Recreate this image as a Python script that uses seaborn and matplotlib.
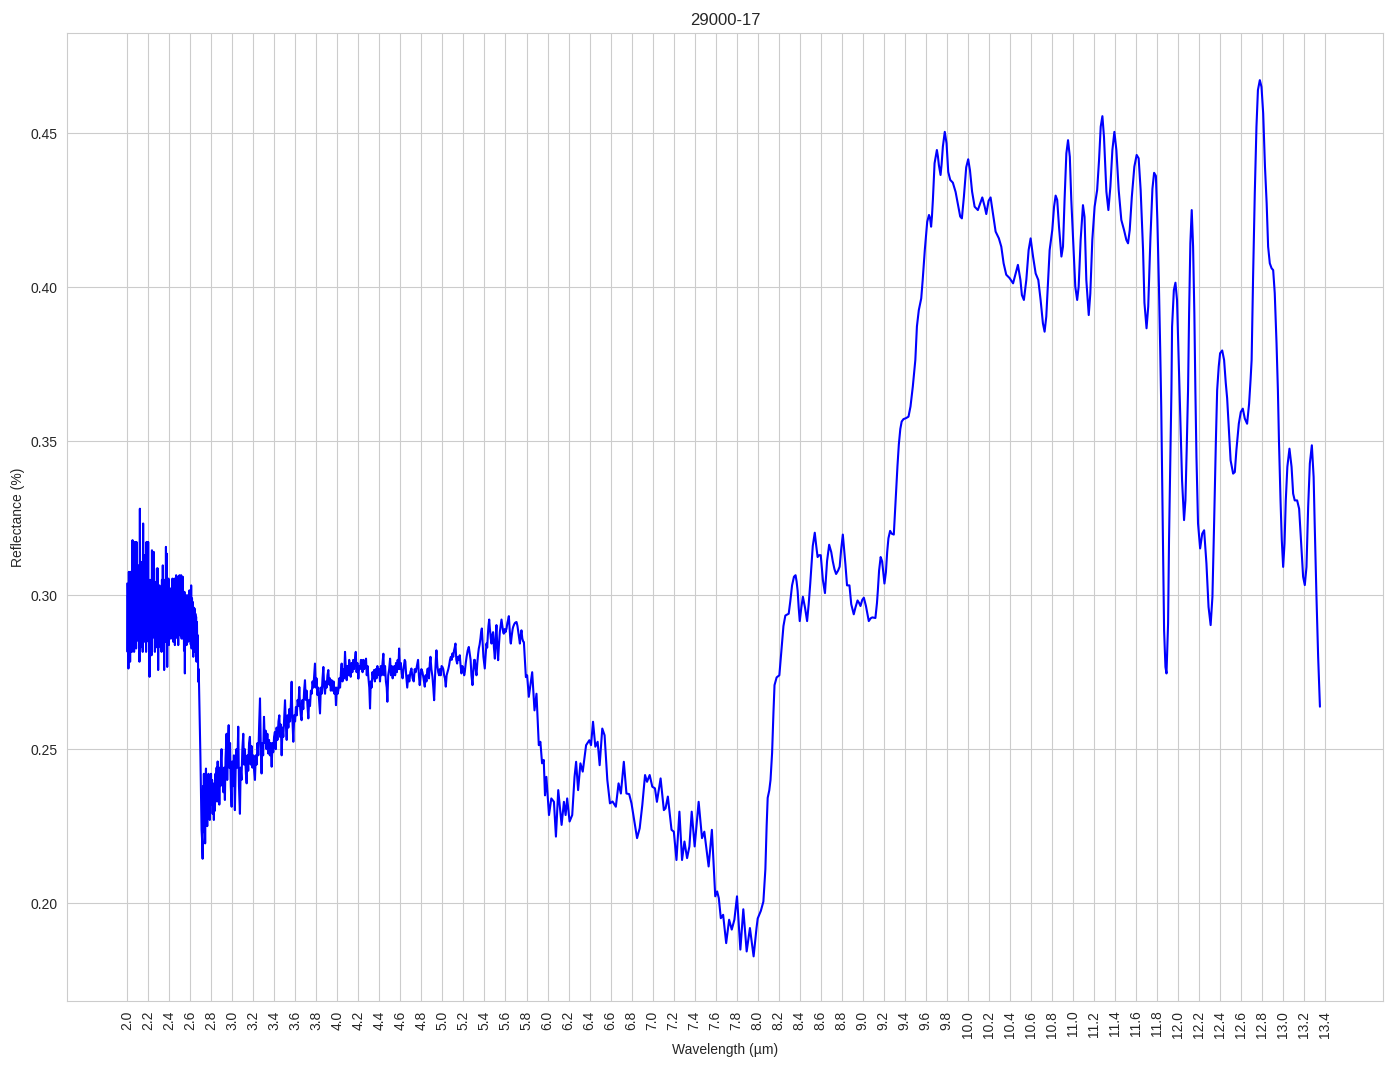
import numpy as np
import pandas as pd
import matplotlib
matplotlib.use("Agg")
import matplotlib.pyplot as plt
import seaborn as sns

# ---- data ----
# segment A: noisy band 2.0 - 2.72 um
wl_a = [2.000, 2.004, 2.008, 2.012, 2.016, 2.020, 2.024, 2.028, 2.032, 2.036,
        2.040, 2.045, 2.051, 2.055, 2.059, 2.066, 2.073, 2.077, 2.081, 2.085,
        2.089, 2.093, 2.097, 2.101, 2.105, 2.109, 2.113, 2.117, 2.121, 2.125,
        2.129, 2.133, 2.137, 2.141, 2.144, 2.148, 2.152, 2.156, 2.160, 2.164,
        2.168, 2.172, 2.176, 2.180, 2.184, 2.188, 2.192, 2.196, 2.200, 2.204,
        2.208, 2.213, 2.218, 2.222, 2.227, 2.232, 2.236, 2.240, 2.244, 2.248,
        2.252, 2.256, 2.260, 2.264, 2.268, 2.271, 2.275, 2.279, 2.283, 2.287,
        2.291, 2.295, 2.299, 2.303, 2.307, 2.311, 2.315, 2.319, 2.323, 2.327,
        2.331, 2.335, 2.339, 2.343, 2.348, 2.352, 2.358, 2.365, 2.369, 2.373,
        2.377, 2.381, 2.385, 2.389, 2.393, 2.397, 2.401, 2.406, 2.411, 2.416,
        2.420, 2.425, 2.431, 2.438, 2.442, 2.446, 2.450, 2.454, 2.458, 2.462,
        2.466, 2.470, 2.474, 2.478, 2.482, 2.486, 2.490, 2.494, 2.498, 2.502,
        2.506, 2.510, 2.514, 2.518, 2.522, 2.525, 2.529, 2.533, 2.537, 2.541,
        2.545, 2.549, 2.553, 2.557, 2.561, 2.565, 2.569, 2.573, 2.577, 2.581,
        2.585, 2.589, 2.593, 2.597, 2.601, 2.605, 2.609, 2.613, 2.617, 2.621,
        2.625, 2.629, 2.633, 2.637, 2.641, 2.645, 2.649, 2.652, 2.656, 2.660,
        2.664, 2.668, 2.672, 2.676, 2.681, 2.686, 2.690, 2.697, 2.703, 2.708,
        2.714, 2.718]
refl_a = [0.3038, 0.2816, 0.3000, 0.2762, 0.3076, 0.2790, 0.3060, 0.2784, 0.3076, 0.2820,
          0.3000, 0.2816, 0.3179, 0.2840, 0.3100, 0.2816, 0.3173, 0.2860, 0.3050, 0.2827,
          0.3173, 0.2880, 0.3030, 0.2892, 0.3097, 0.2850, 0.3040, 0.2784, 0.3281, 0.2830,
          0.3060, 0.2870, 0.3108, 0.2859, 0.3020, 0.2816, 0.3233, 0.2860, 0.3080, 0.2849,
          0.3130, 0.2880, 0.3040, 0.2816, 0.3173, 0.2850, 0.3060, 0.2870, 0.3173, 0.2859,
          0.3000, 0.2735, 0.3050, 0.2830, 0.3020, 0.2805, 0.3146, 0.2860, 0.3100, 0.2870,
          0.3141, 0.2880, 0.3000, 0.2816, 0.3043, 0.2850, 0.3000, 0.2870, 0.3087, 0.2830,
          0.3087, 0.2757, 0.3000, 0.2870, 0.3032, 0.2892, 0.2990, 0.2830, 0.3016, 0.2816,
          0.3050, 0.2860, 0.3097, 0.2870, 0.3000, 0.2757, 0.3050, 0.2849, 0.3157, 0.2880,
          0.3135, 0.2767, 0.3050, 0.2860, 0.3054, 0.2838, 0.3010, 0.2870, 0.3022, 0.2859,
          0.2990, 0.2870, 0.3054, 0.2849, 0.3030, 0.2870, 0.3054, 0.2838, 0.3040, 0.2870,
          0.3065, 0.2892, 0.3040, 0.2860, 0.3060, 0.2838, 0.3050, 0.2870, 0.3065, 0.2892,
          0.3040, 0.2870, 0.3065, 0.2859, 0.3030, 0.2870, 0.3060, 0.2859, 0.3000, 0.2820,
          0.3011, 0.2746, 0.2990, 0.2860, 0.3000, 0.2838, 0.2980, 0.2870, 0.3000, 0.2849,
          0.2990, 0.2880, 0.3016, 0.2870, 0.2990, 0.2840, 0.3032, 0.2827, 0.2990, 0.2850,
          0.2978, 0.2800, 0.2960, 0.2830, 0.2957, 0.2816, 0.2940, 0.2850, 0.2930, 0.2784,
          0.2913, 0.2800, 0.2870, 0.2719, 0.2760, 0.2675, 0.2600, 0.2475, 0.2340, 0.2237,
          0.2200, 0.2144]

# segment B: 2.72 - 5.78 um
wl_b = [2.722, 2.726, 2.730, 2.734, 2.738, 2.742, 2.746, 2.750, 2.754, 2.758,
        2.762, 2.766, 2.770, 2.774, 2.778, 2.782, 2.786, 2.790, 2.794, 2.798,
        2.803, 2.808, 2.813, 2.818, 2.825, 2.830, 2.835, 2.840, 2.845, 2.851,
        2.856, 2.861, 2.867, 2.872, 2.877, 2.883, 2.888, 2.893, 2.898, 2.904,
        2.910, 2.916, 2.922, 2.930, 2.936, 2.946, 2.952, 2.958, 2.966, 2.972,
        2.979, 2.986, 2.994, 3.000, 3.008, 3.016, 3.025, 3.032, 3.040, 3.048,
        3.057, 3.064, 3.073, 3.080, 3.088, 3.096, 3.105, 3.112, 3.120, 3.130,
        3.137, 3.145, 3.152, 3.160, 3.168, 3.176, 3.184, 3.192, 3.200, 3.208,
        3.216, 3.224, 3.232, 3.240, 3.248, 3.256, 3.264, 3.271, 3.279, 3.286,
        3.294, 3.302, 3.310, 3.318, 3.326, 3.334, 3.343, 3.350, 3.358, 3.366,
        3.375, 3.383, 3.390, 3.398, 3.406, 3.414, 3.422, 3.430, 3.440, 3.448,
        3.455, 3.462, 3.470, 3.478, 3.486, 3.494, 3.502, 3.510, 3.518, 3.526,
        3.534, 3.542, 3.550, 3.558, 3.565, 3.572, 3.581, 3.590, 3.598, 3.606,
        3.614, 3.622, 3.630, 3.638, 3.645, 3.652, 3.660, 3.668, 3.676, 3.684,
        3.692, 3.700, 3.708, 3.716, 3.724, 3.732, 3.740, 3.748, 3.756, 3.764,
        3.772, 3.780, 3.787, 3.795, 3.802, 3.810, 3.818, 3.826, 3.835, 3.843,
        3.851, 3.859, 3.867, 3.875, 3.883, 3.890, 3.898, 3.906, 3.914, 3.922,
        3.930, 3.938, 3.946, 3.955, 3.964, 3.972, 3.980, 3.987, 3.995, 4.003,
        4.010, 4.018, 4.026, 4.034, 4.041, 4.049, 4.057, 4.065, 4.073, 4.081,
        4.089, 4.097, 4.105, 4.113, 4.120, 4.127, 4.135, 4.143, 4.151, 4.159,
        4.167, 4.175, 4.183, 4.191, 4.200, 4.208, 4.216, 4.224, 4.232, 4.240,
        4.248, 4.256, 4.264, 4.273, 4.280, 4.288, 4.296, 4.304, 4.311, 4.318,
        4.326, 4.334, 4.342, 4.349, 4.357, 4.365, 4.373, 4.381, 4.390, 4.398,
        4.406, 4.414, 4.422, 4.430, 4.438, 4.446, 4.454, 4.462, 4.470, 4.476,
        4.484, 4.493, 4.502, 4.510, 4.518, 4.526, 4.534, 4.542, 4.550, 4.558,
        4.566, 4.574, 4.581, 4.588, 4.596, 4.604, 4.613, 4.621, 4.630, 4.641,
        4.647, 4.655, 4.665, 4.675, 4.685, 4.695, 4.705, 4.716, 4.727, 4.736,
        4.746, 4.757, 4.768, 4.776, 4.784, 4.792, 4.800, 4.810, 4.820, 4.832,
        4.840, 4.848, 4.856, 4.864, 4.872, 4.880, 4.886, 4.895, 4.905, 4.913,
        4.921, 4.930, 4.937, 4.943, 4.952, 4.960, 4.968, 4.976, 4.984, 4.992,
        5.000, 5.008, 5.016, 5.024, 5.032, 5.040, 5.048, 5.056, 5.064, 5.072,
        5.080, 5.088, 5.095, 5.103, 5.110, 5.117, 5.124, 5.132, 5.140, 5.148,
        5.156, 5.165, 5.173, 5.181, 5.190, 5.200, 5.207, 5.213, 5.222, 5.230,
        5.240, 5.251, 5.260, 5.268, 5.276, 5.286, 5.295, 5.302, 5.308, 5.316,
        5.324, 5.332, 5.340, 5.346, 5.354, 5.362, 5.368, 5.375, 5.382, 5.390,
        5.397, 5.403, 5.410, 5.419, 5.426, 5.432, 5.438, 5.445, 5.452, 5.460,
        5.467, 5.474, 5.482, 5.490, 5.499, 5.506, 5.514, 5.522, 5.530, 5.538,
        5.546, 5.554, 5.562, 5.570, 5.578, 5.584, 5.592, 5.600, 5.610, 5.618,
        5.625, 5.632, 5.640, 5.647, 5.651, 5.660, 5.668, 5.673, 5.682, 5.690,
        5.698, 5.705, 5.714, 5.722, 5.730, 5.737, 5.745, 5.752, 5.760, 5.768,
        5.775]
refl_b = [0.2380, 0.2250, 0.2420, 0.2230, 0.2360, 0.2194, 0.2400, 0.2437, 0.2280, 0.2400,
          0.2250, 0.2380, 0.2290, 0.2420, 0.2300, 0.2380, 0.2270, 0.2400, 0.2320, 0.2420,
          0.2330, 0.2400, 0.2290, 0.2380, 0.2270, 0.2390, 0.2300, 0.2420, 0.2350, 0.2440,
          0.2330, 0.2460, 0.2350, 0.2430, 0.2320, 0.2440, 0.2380, 0.2470, 0.2500, 0.2400,
          0.2430, 0.2360, 0.2440, 0.2335, 0.2470, 0.2550, 0.2400, 0.2500, 0.2578, 0.2440,
          0.2520, 0.2380, 0.2313, 0.2460, 0.2380, 0.2480, 0.2302, 0.2430, 0.2500, 0.2440,
          0.2573, 0.2380, 0.2290, 0.2440, 0.2400, 0.2500, 0.2550, 0.2450, 0.2500, 0.2420,
          0.2389, 0.2480, 0.2430, 0.2520, 0.2540, 0.2450, 0.2510, 0.2440, 0.2480, 0.2430,
          0.2400, 0.2480, 0.2450, 0.2520, 0.2480, 0.2580, 0.2665, 0.2520, 0.2421, 0.2520,
          0.2480, 0.2605, 0.2520, 0.2560, 0.2500, 0.2550, 0.2486, 0.2530, 0.2480, 0.2520,
          0.2443, 0.2520, 0.2490, 0.2540, 0.2556, 0.2500, 0.2570, 0.2530, 0.2590, 0.2610,
          0.2540, 0.2580, 0.2480, 0.2570, 0.2540, 0.2600, 0.2659, 0.2580, 0.2530, 0.2610,
          0.2570, 0.2630, 0.2590, 0.2650, 0.2719, 0.2600, 0.2524, 0.2610, 0.2590, 0.2637,
          0.2610, 0.2660, 0.2640, 0.2702, 0.2640, 0.2610, 0.2594, 0.2660, 0.2630, 0.2690,
          0.2724, 0.2660, 0.2690, 0.2640, 0.2600, 0.2660, 0.2640, 0.2690, 0.2680, 0.2720,
          0.2700, 0.2740, 0.2778, 0.2700, 0.2730, 0.2676, 0.2700, 0.2660, 0.2616, 0.2700,
          0.2680, 0.2730, 0.2767, 0.2700, 0.2680, 0.2720, 0.2700, 0.2740, 0.2757, 0.2710,
          0.2730, 0.2690, 0.2724, 0.2690, 0.2720, 0.2680, 0.2700, 0.2643, 0.2700, 0.2680,
          0.2692, 0.2730, 0.2700, 0.2750, 0.2778, 0.2720, 0.2760, 0.2730, 0.2816, 0.2760,
          0.2724, 0.2770, 0.2740, 0.2790, 0.2750, 0.2735, 0.2780, 0.2750, 0.2790, 0.2760,
          0.2790, 0.2816, 0.2750, 0.2780, 0.2729, 0.2770, 0.2760, 0.2790, 0.2789, 0.2750,
          0.2790, 0.2760, 0.2780, 0.2794, 0.2740, 0.2770, 0.2730, 0.2700, 0.2632, 0.2720,
          0.2700, 0.2750, 0.2730, 0.2757, 0.2720, 0.2760, 0.2730, 0.2770, 0.2741, 0.2760,
          0.2720, 0.2770, 0.2740, 0.2780, 0.2810, 0.2740, 0.2770, 0.2720, 0.2700, 0.2654,
          0.2740, 0.2760, 0.2794, 0.2740, 0.2770, 0.2730, 0.2746, 0.2770, 0.2740, 0.2780,
          0.2750, 0.2790, 0.2760, 0.2827, 0.2760, 0.2780, 0.2746, 0.2730, 0.2760, 0.2790,
          0.2785, 0.2740, 0.2700, 0.2740, 0.2720, 0.2750, 0.2762, 0.2730, 0.2720, 0.2760,
          0.2750, 0.2770, 0.2790, 0.2740, 0.2708, 0.2740, 0.2760, 0.2750, 0.2730, 0.2703,
          0.2740, 0.2720, 0.2760, 0.2762, 0.2730, 0.2780, 0.2800, 0.2760, 0.2735, 0.2700,
          0.2659, 0.2740, 0.2790, 0.2821, 0.2770, 0.2750, 0.2740, 0.2760, 0.2740, 0.2770,
          0.2767, 0.2760, 0.2740, 0.2730, 0.2703, 0.2740, 0.2750, 0.2760, 0.2773, 0.2790,
          0.2800, 0.2790, 0.2811, 0.2800, 0.2820, 0.2830, 0.2843, 0.2790, 0.2778, 0.2800,
          0.2790, 0.2805, 0.2770, 0.2746, 0.2770, 0.2760, 0.2740, 0.2751, 0.2780, 0.2800,
          0.2820, 0.2832, 0.2810, 0.2790, 0.2740, 0.2708, 0.2760, 0.2790, 0.2790, 0.2760,
          0.2740, 0.2780, 0.2810, 0.2827, 0.2840, 0.2860, 0.2880, 0.2892, 0.2850, 0.2800,
          0.2780, 0.2762, 0.2800, 0.2843, 0.2830, 0.2870, 0.2900, 0.2921, 0.2890, 0.2860,
          0.2843, 0.2870, 0.2880, 0.2830, 0.2794, 0.2860, 0.2903, 0.2830, 0.2789, 0.2840,
          0.2880, 0.2900, 0.2921, 0.2900, 0.2880, 0.2875, 0.2890, 0.2880, 0.2892, 0.2910,
          0.2920, 0.2932, 0.2890, 0.2850, 0.2843, 0.2870, 0.2890, 0.2897, 0.2905, 0.2910,
          0.2912, 0.2913, 0.2900, 0.2880, 0.2860, 0.2843, 0.2870, 0.2886, 0.2860, 0.2850,
          0.2848]

# segment C: 5.79 - 8.0 um
wl_c = [5.794, 5.806, 5.822, 5.854, 5.876, 5.895, 5.917, 5.932, 5.948, 5.964,
        5.976, 5.989, 6.014, 6.036, 6.061, 6.080, 6.102, 6.134, 6.156, 6.172,
        6.187, 6.210, 6.235, 6.257, 6.272, 6.291, 6.313, 6.335, 6.367, 6.398,
        6.414, 6.433, 6.455, 6.477, 6.496, 6.521, 6.543, 6.569, 6.594, 6.619,
        6.650, 6.676, 6.698, 6.726, 6.751, 6.777, 6.799, 6.824, 6.852, 6.877,
        6.902, 6.928, 6.947, 6.972, 6.997, 7.022, 7.041, 7.076, 7.107, 7.123,
        7.145, 7.180, 7.202, 7.227, 7.255, 7.280, 7.303, 7.328, 7.350, 7.372,
        7.400, 7.438, 7.470, 7.492, 7.533, 7.564, 7.596, 7.614, 7.630, 7.649,
        7.671, 7.700, 7.728, 7.753, 7.778, 7.803, 7.835, 7.863, 7.895, 7.926,
        7.961, 7.989]
refl_c = [0.2734, 0.2740, 0.2670, 0.2750, 0.2626, 0.2680, 0.2513, 0.2524, 0.2454, 0.2465,
          0.2350, 0.2410, 0.2286, 0.2340, 0.2329, 0.2216, 0.2367, 0.2254, 0.2329, 0.2286,
          0.2340, 0.2265, 0.2286, 0.2410, 0.2459, 0.2367, 0.2454, 0.2427, 0.2513, 0.2529,
          0.2513, 0.2589, 0.2508, 0.2524, 0.2448, 0.2567, 0.2545, 0.2400, 0.2324, 0.2330,
          0.2313, 0.2389, 0.2356, 0.2459, 0.2356, 0.2354, 0.2324, 0.2270, 0.2211, 0.2243,
          0.2319, 0.2416, 0.2394, 0.2416, 0.2378, 0.2373, 0.2329, 0.2405, 0.2302, 0.2308,
          0.2346, 0.2238, 0.2232, 0.2140, 0.2297, 0.2140, 0.2200, 0.2146, 0.2184, 0.2297,
          0.2184, 0.2329, 0.2211, 0.2232, 0.2119, 0.2238, 0.2022, 0.2038, 0.2016, 0.1951,
          0.1962, 0.1870, 0.1946, 0.1914, 0.1946, 0.2022, 0.1849, 0.1980, 0.1843, 0.1919,
          0.1827, 0.1920]

# segment D: 8.0 - 9.48 um
wl_d = [8.000, 8.030, 8.054, 8.073, 8.085, 8.095, 8.110, 8.122, 8.137, 8.150,
        8.160, 8.180, 8.206, 8.218, 8.230, 8.245, 8.263, 8.295, 8.310, 8.327,
        8.345, 8.360, 8.370, 8.380, 8.390, 8.400, 8.415, 8.430, 8.450, 8.470,
        8.485, 8.500, 8.512, 8.524, 8.543, 8.557, 8.570, 8.585, 8.600, 8.620,
        8.640, 8.660, 8.680, 8.700, 8.714, 8.730, 8.746, 8.765, 8.780, 8.794,
        8.810, 8.822, 8.835, 8.850, 8.873, 8.890, 8.914, 8.930, 8.950, 8.965,
        8.978, 8.995, 9.010, 9.030, 9.057, 9.075, 9.090, 9.120, 9.135, 9.143,
        9.155, 9.170, 9.184, 9.206, 9.220, 9.232, 9.244, 9.260, 9.275, 9.295,
        9.305, 9.317, 9.330, 9.343, 9.357, 9.370, 9.387, 9.410, 9.435, 9.454,
        9.476]
refl_d = [0.1950, 0.1975, 0.2005, 0.2110, 0.2250, 0.2342, 0.2366, 0.2400, 0.2488, 0.2620,
          0.2708, 0.2733, 0.2740, 0.2790, 0.2843, 0.2900, 0.2934, 0.2940, 0.2980, 0.3032,
          0.3060, 0.3065, 0.3045, 0.3014, 0.2960, 0.2916, 0.2960, 0.2995, 0.2960, 0.2916,
          0.2970, 0.3038, 0.3100, 0.3160, 0.3203, 0.3160, 0.3124, 0.3130, 0.3130, 0.3050,
          0.3007, 0.3111, 0.3164, 0.3140, 0.3111, 0.3085, 0.3069, 0.3080, 0.3093, 0.3148,
          0.3197, 0.3150, 0.3099, 0.3032, 0.3032, 0.2971, 0.2938, 0.2960, 0.2983, 0.2975,
          0.2965, 0.2985, 0.2992, 0.2965, 0.2916, 0.2925, 0.2928, 0.2926, 0.2975, 0.3014,
          0.3080, 0.3124, 0.3110, 0.3038, 0.3075, 0.3140, 0.3185, 0.3209, 0.3200, 0.3197,
          0.3260, 0.3331, 0.3420, 0.3490, 0.3540, 0.3564, 0.3572, 0.3575, 0.3580, 0.3613,
          0.3678]

# segment E: 9.5 - 10.27 um
wl_e = [9.500, 9.515, 9.533, 9.556, 9.570, 9.590, 9.613, 9.630, 9.640, 9.650,
        9.658, 9.667, 9.683, 9.705, 9.715, 9.724, 9.740, 9.750, 9.762, 9.780,
        9.797, 9.813, 9.832, 9.857, 9.883, 9.905, 9.927, 9.943, 9.962, 9.984,
        10.003, 10.020, 10.040, 10.064, 10.095, 10.117, 10.137, 10.160, 10.175, 10.197,
        10.216, 10.238, 10.264]
refl_e = [0.3764, 0.3873, 0.3926, 0.3964, 0.4024, 0.4121, 0.4213, 0.4235, 0.4225, 0.4197,
          0.4230, 0.4284, 0.4403, 0.4446, 0.4425, 0.4397, 0.4365, 0.4400, 0.4457, 0.4505,
          0.4468, 0.4375, 0.4349, 0.4340, 0.4310, 0.4270, 0.4230, 0.4224, 0.4294, 0.4390,
          0.4416, 0.4380, 0.4311, 0.4262, 0.4251, 0.4273, 0.4292, 0.4262, 0.4238, 0.4281,
          0.4292, 0.4240, 0.4181]

# segment F: 10.3 - 11.65 um
wl_f = [10.295, 10.318, 10.340, 10.365, 10.397, 10.430, 10.454, 10.476, 10.500, 10.514,
        10.533, 10.556, 10.578, 10.597, 10.620, 10.645, 10.670, 10.692, 10.714, 10.730,
        10.746, 10.762, 10.778, 10.803, 10.820, 10.835, 10.850, 10.867, 10.890, 10.905,
        10.920, 10.937, 10.953, 10.970, 10.984, 11.006, 11.022, 11.040, 11.054, 11.073,
        11.095, 11.110, 11.127, 11.150, 11.165, 11.184, 11.206, 11.230, 11.248, 11.264,
        11.280, 11.295, 11.318, 11.337, 11.356, 11.375, 11.394, 11.413, 11.435, 11.460,
        11.486, 11.508, 11.524, 11.540, 11.560, 11.584, 11.606, 11.625, 11.644]
refl_f = [0.4159, 0.4132, 0.4078, 0.4041, 0.4030, 0.4013, 0.4045, 0.4073, 0.4024, 0.3975,
          0.3959, 0.4024, 0.4121, 0.4159, 0.4100, 0.4045, 0.4024, 0.3959, 0.3883, 0.3856,
          0.3905, 0.4013, 0.4121, 0.4186, 0.4262, 0.4298, 0.4284, 0.4197, 0.4100, 0.4132,
          0.4284, 0.4435, 0.4478, 0.4424, 0.4284, 0.4121, 0.4002, 0.3959, 0.4002, 0.4154,
          0.4267, 0.4229, 0.4024, 0.3910, 0.3980, 0.4154, 0.4262, 0.4316, 0.4413, 0.4522,
          0.4556, 0.4489, 0.4311, 0.4251, 0.4327, 0.4446, 0.4505, 0.4446, 0.4316, 0.4219,
          0.4186, 0.4154, 0.4143, 0.4186, 0.4294, 0.4392, 0.4430, 0.4419, 0.4316]

# segment G: 11.67 - 13.35 um
wl_g = [11.667, 11.680, 11.700, 11.716, 11.737, 11.756, 11.772, 11.789, 11.803, 11.818,
        11.830, 11.840, 11.850, 11.858, 11.867, 11.880, 11.890, 11.905, 11.914, 11.927,
        11.937, 11.943, 11.960, 11.975, 11.990, 12.006, 12.022, 12.038, 12.057, 12.070,
        12.082, 12.095, 12.105, 12.117, 12.130, 12.143, 12.155, 12.165, 12.175, 12.190,
        12.210, 12.230, 12.248, 12.270, 12.290, 12.310, 12.327, 12.343, 12.360, 12.372,
        12.387, 12.400, 12.420, 12.438, 12.454, 12.467, 12.486, 12.500, 12.524, 12.540,
        12.555, 12.578, 12.597, 12.616, 12.635, 12.657, 12.676, 12.690, 12.700, 12.714,
        12.730, 12.746, 12.760, 12.778, 12.794, 12.810, 12.827, 12.843, 12.857, 12.873,
        12.890, 12.905, 12.920, 12.937, 12.950, 12.960, 12.975, 12.987, 13.000, 13.013,
        13.025, 13.040, 13.060, 13.080, 13.095, 13.110, 13.133, 13.152, 13.175, 13.190,
        13.206, 13.222, 13.238, 13.254, 13.273, 13.290, 13.300, 13.317, 13.333, 13.350]
refl_g = [0.4120, 0.3950, 0.3867, 0.3937, 0.4160, 0.4320, 0.4372, 0.4362, 0.4219, 0.4003,
          0.3800, 0.3611, 0.3341, 0.3125, 0.2887, 0.2767, 0.2746, 0.2908, 0.3179, 0.3449,
          0.3667, 0.3872, 0.3991, 0.4015, 0.3959, 0.3764, 0.3557, 0.3373, 0.3244, 0.3308,
          0.3471, 0.3666, 0.3916, 0.4143, 0.4251, 0.4132, 0.3916, 0.3660, 0.3449, 0.3233,
          0.3152, 0.3200, 0.3211, 0.3103, 0.2962, 0.2903, 0.2995, 0.3233, 0.3503, 0.3666,
          0.3743, 0.3786, 0.3795, 0.3764, 0.3689, 0.3640, 0.3525, 0.3438, 0.3395, 0.3400,
          0.3471, 0.3557, 0.3595, 0.3606, 0.3574, 0.3557, 0.3622, 0.3700, 0.3764, 0.4035,
          0.4305, 0.4522, 0.4641, 0.4673, 0.4651, 0.4565, 0.4392, 0.4273, 0.4132, 0.4078,
          0.4062, 0.4056, 0.3981, 0.3818, 0.3666, 0.3503, 0.3308, 0.3179, 0.3092, 0.3168,
          0.3308, 0.3417, 0.3476, 0.3417, 0.3330, 0.3308, 0.3308, 0.3281, 0.3146, 0.3060,
          0.3033, 0.3092, 0.3287, 0.3428, 0.3487, 0.3384, 0.3233, 0.2995, 0.2800, 0.2638]

title = "29000-17"
x_label = "Wavelength (µm)"
y_label = "Reflectance (%)"
x_ticks = [round(2.0 + 0.2 * i, 1) for i in range(58)]
x_tick_labels = [f"{t:.1f}" for t in x_ticks]

# ---- build table ----
wl = wl_a + wl_b + wl_c + wl_d + wl_e + wl_f + wl_g
refl = refl_a + refl_b + refl_c + refl_d + refl_e + refl_f + refl_g
df = pd.DataFrame({"wavelength": wl, "reflectance": refl})

sns.set_style("whitegrid")
plt.rcParams['font.family'] = ['Liberation Sans', 'DejaVu Sans']

fig, ax = plt.subplots(figsize=(13.94, 10.69), dpi=100)
fig.subplots_adjust(left=0.0481, right=0.9921, top=0.9691, bottom=0.0636)

sns.lineplot(data=df, x="wavelength", y="reflectance", ax=ax,
             color="blue", linewidth=1.5, estimator=None, sort=False)

ax.set_xticks(x_ticks)
ax.set_xticklabels(x_tick_labels, rotation=90)
ax.set_xlim(1.428, 13.95)
ax.set_ylim(0.1682, 0.4826)
ax.set_title(title, fontsize=12)
ax.set_xlabel(x_label)
ax.set_ylabel(y_label)

fig.savefig("out.png", dpi=100)
